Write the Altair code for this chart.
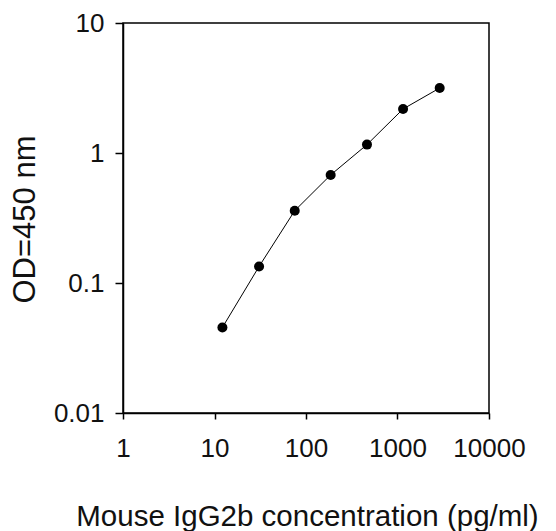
import altair as alt
import pandas as pd

conc = [12.2, 30.7, 75.3, 186, 464, 1150, 2890]
od = [0.0455, 0.134, 0.36, 0.678, 1.16, 2.18, 3.16]
x_ticks = [1, 10, 100, 1000, 10000]
y_ticks = [0.01, 0.1, 1, 10]

df = pd.DataFrame({"conc": conc, "od": od})

FONT = "Liberation Sans"

x_enc = alt.X(
    "conc:Q",
    scale=alt.Scale(type="log", domain=[1, 10000], nice=False),
    axis=alt.Axis(
        values=x_ticks, format="~g", grid=False,
        title="Mouse IgG2b concentration (pg/ml)",
        titleFont=FONT, titleFontSize=29.5, titleFontWeight="normal", titleColor="#111",
        titleX=184, titleY=112, titleBaseline="alphabetic", titleAlign="center",
        labelFont=FONT, labelFontSize=26, labelColor="#111",
        labelBaseline="alphabetic", labelPadding=37, labelFlush=False,
        tickSize=6, tickColor="black", tickWidth=1.5,
        domainColor="black", domainWidth=1.5,
    ),
)
y_enc = alt.Y(
    "od:Q",
    scale=alt.Scale(type="log", domain=[0.01, 10], nice=False),
    axis=alt.Axis(
        values=y_ticks, format="~g", grid=False,
        title="OD=450 nm",
        titleFont=FONT, titleFontSize=31, titleFontWeight="normal", titleColor="#111",
        titleAngle=-90, titleX=-98, titleY=196, titleAlign="center", titleBaseline="middle",
        labelFont=FONT, labelFontSize=26, labelColor="#111",
        labelPadding=11, labelFlush=False,
        tickSize=8, tickColor="black", tickWidth=1.5,
        domainColor="black", domainWidth=1.5,
    ),
)

line = alt.Chart(df).mark_line(color="black", strokeWidth=1).encode(x=x_enc, y=y_enc)
pts = alt.Chart(df).mark_point(filled=True, color="black", size=100, opacity=1).encode(x="conc:Q", y="od:Q")

chart = (line + pts).properties(
    width=366, height=390,
    autosize=alt.AutoSizeParams(type="none"),
    padding={"left": 115, "top": 15, "right": 59, "bottom": 118},
).configure_view(stroke="black", strokeWidth=1.5)

chart.save("out.html", embed_options={"renderer": "svg", "actions": False})
